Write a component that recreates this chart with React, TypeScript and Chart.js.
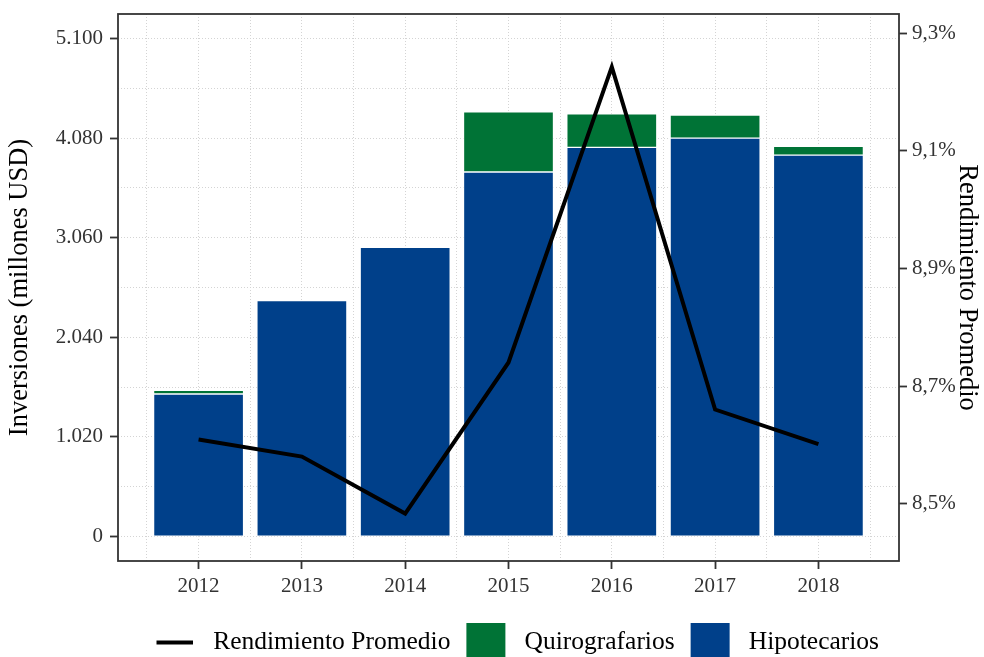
import React, { useEffect, useRef } from 'react';
import { Chart, registerables } from 'chart.js';

Chart.register(...registerables);

// ---- data ----
const years = [2012, 2013, 2014, 2015, 2016, 2017, 2018];
const hipotecarios = [1460, 2415, 2961, 3732, 3984, 4080, 3906];
const quirografarios = [36, 0, 0, 617, 344, 235, 89];
const rendimiento = [8.609, 8.58, 8.483, 8.74, 9.243, 8.66, 8.601];
const leftTickLabels = [0, 1020, 2040, 3060, 4080, 5100];
const rightTickLabels = [8.5, 8.7, 8.9, 9.1, 9.3];

const SERIF = "'Liberation Serif', 'Times New Roman', serif";
const BLUE = '#00408A';
const GREEN = '#007336';
const AXIS = '#333333';
const GRID = '#d4d4d4';
const CLEAR = 'rgba(0,0,0,0)';

// grid positions: major ticks plus one minor line halfway between each pair
const withMinor = (major: number[], first: number, last: number) => {
  const step = (major[1] - major[0]) / 2;
  const out: number[] = [];
  for (let v = first; v <= last + 1e-9; v += step) out.push(Math.round(v * 1000) / 1000);
  return out;
};
const yGrid = withMinor(leftTickLabels, 0, 5100);
const xGrid = withMinor(years, years[0] - 0.5, years[years.length - 1] + 0.5);

const fmtThousands = (v: number) => String(Math.round(v)).replace(/\B(?=(\d{3})+(?!\d))/g, '.');
const fmtPct = (v: number) => v.toFixed(1).replace('.', ',') + '%';
const isLeftLabel = (v: number) => leftTickLabels.some((t) => Math.abs(t - v) < 1e-6);
const isRightLabel = (v: number) => rightTickLabels.some((t) => Math.abs(t - v) < 1e-6);
const isYear = (v: number) => years.some((t) => Math.abs(t - v) < 1e-6);

const legendRank: Record<number, number> = { 0: 0, 2: 1, 1: 2 };

const framePlugin = {
  id: 'frameAndLegend',
  afterLayout(chart: any) {
    const lg = chart.legend;
    if (!lg || !lg.lineWidths) return;
    const pad = lg.options.labels.padding;
    const start = (lg.left + pad + lg.right - lg.lineWidths[0]) / 2;
    const shift = 155 - start;
    lg.left += shift;
    lg.right += shift;
  },
  afterDraw(chart: any) {
    const { ctx, chartArea: a } = chart;
    ctx.save();
    ctx.strokeStyle = AXIS;
    ctx.lineWidth = 1.8;
    ctx.strokeRect(a.left, a.top, a.right - a.left, a.bottom - a.top);
    const lg = chart.legend;
    if (lg && lg.legendHitBoxes && lg.legendHitBoxes[0]) {
      const hb = lg.legendHitBoxes[0];
      const y = hb.top + hb.height / 2;
      ctx.strokeStyle = '#000';
      ctx.lineWidth = 4;
      ctx.lineCap = 'butt';
      ctx.beginPath();
      ctx.moveTo(hb.left + 1.5, y);
      ctx.lineTo(hb.left + 38, y);
      ctx.stroke();
    }
    ctx.restore();
  },
};

export default function App() {
  const ref = useRef<HTMLCanvasElement>(null);

  useEffect(() => {
    const canvas = ref.current;
    if (!canvas) return;
    const chart = new Chart(canvas, {
      type: 'bar',
      data: {
        datasets: [
          {
            type: 'line',
            label: 'Rendimiento Promedio',
            data: years.map((x, i) => ({ x, y: rendimiento[i] })),
            yAxisID: 'y2',
            borderColor: '#000',
            backgroundColor: '#000',
            borderWidth: 4,
            pointRadius: 0,
            tension: 0,
            borderJoinStyle: 'miter',
            fill: false,
          } as any,
          {
            type: 'bar',
            label: 'Hipotecarios',
            data: years.map((x, i) => ({ x, y: hipotecarios[i] })),
            yAxisID: 'y',
            backgroundColor: BLUE,
            borderColor: '#ffffff',
            borderWidth: 1,
            borderSkipped: false,
            barThickness: 90,
          } as any,
          {
            type: 'bar',
            label: 'Quirografarios',
            data: years.map((x, i) => ({ x, y: quirografarios[i] })),
            yAxisID: 'y',
            backgroundColor: GREEN,
            borderColor: '#ffffff',
            borderWidth: 1,
            borderSkipped: false,
            barThickness: 90,
          } as any,
        ],
      },
      options: {
        responsive: false,
        animation: false,
        devicePixelRatio: 1,
        layout: { padding: { top: 14, left: 0, right: 0, bottom: 0 } },
        font: { family: SERIF },
        plugins: {
          tooltip: { enabled: false },
          legend: {
            position: 'bottom',
            align: 'center',
            fullSize: true,
            labels: {
              color: '#000',
              font: { family: SERIF, size: 25.5 },
              boxWidth: 39,
              boxHeight: 39,
              padding: 16,
              generateLabels(chart: any) {
                const items = (Chart as any).defaults.plugins.legend.labels.generateLabels(chart);
                return items.map((it: any) => {
                  const ds: any = chart.data.datasets[it.datasetIndex];
                  if (ds.type === 'line') {
                    return { ...it, text: ' ' + it.text, fillStyle: CLEAR, strokeStyle: CLEAR, lineWidth: 0 };
                  }
                  return { ...it, text: ' ' + it.text, lineWidth: 0 };
                });
              },
              sort: (a: any, b: any) => legendRank[a.datasetIndex] - legendRank[b.datasetIndex],
            },
          },
        },
        scales: {
          x: {
            type: 'linear',
            position: 'bottom',
            min: 2011.22,
            max: 2018.78,
            offset: false,
            stacked: true,
            afterBuildTicks(s: any) {
              s.ticks = xGrid.map((value) => ({ value }));
            },
            afterFit(s: any) {
              s.height = 46;
              s.paddingLeft = 0;
              s.paddingRight = 0;
            },
            ticks: {
              autoSkip: false,
              maxRotation: 0,
              minRotation: 0,
              padding: 5,
              color: AXIS,
              font: { family: SERIF, size: 21 },
              callback: (v: any) => (isYear(v) ? String(Math.round(v)) : ''),
            },
            grid: {
              offset: false,
              color: GRID,
              lineWidth: 1,
              tickLength: 8,
              tickWidth: 1.8,
              tickColor: (c: any) => (c.tick && isYear(c.tick.value) ? AXIS : CLEAR),
            },
            border: { display: false, dash: [1, 2] },
          } as any,
          y: {
            type: 'linear',
            position: 'left',
            min: -250,
            max: 5350,
            stacked: true,
            afterBuildTicks(s: any) {
              s.ticks = yGrid.map((value) => ({ value }));
            },
            afterFit(s: any) {
              s.width = 118;
              s.paddingTop = 0;
              s.paddingBottom = 0;
            },
            ticks: {
              autoSkip: false,
              padding: 7,
              color: AXIS,
              font: { family: SERIF, size: 21 },
              callback: (v: any) => (isLeftLabel(v) ? fmtThousands(v) : ''),
            },
            grid: {
              color: GRID,
              lineWidth: 1,
              tickLength: 8,
              tickWidth: 1.8,
              tickColor: (c: any) => (c.tick && isLeftLabel(c.tick.value) ? AXIS : CLEAR),
            },
            border: { display: false, dash: [1, 2] },
            title: {
              display: true,
              text: 'Inversiones (millones USD)',
              color: '#000',
              font: { family: SERIF, size: 26.5 },
              padding: { top: 4, bottom: 0 },
            },
          } as any,
          y2: {
            type: 'linear',
            position: 'right',
            min: 8.4023,
            max: 9.3329,
            afterBuildTicks(s: any) {
              s.ticks = rightTickLabels.map((value) => ({ value }));
            },
            afterFit(s: any) {
              s.width = 85;
              s.paddingTop = 0;
              s.paddingBottom = 0;
            },
            ticks: {
              autoSkip: false,
              padding: 5,
              color: AXIS,
              font: { family: SERIF, size: 21 },
              callback: (v: any) => (isRightLabel(v) ? fmtPct(v) : ''),
            },
            grid: {
              drawOnChartArea: false,
              tickLength: 8,
              tickWidth: 1.8,
              tickColor: AXIS,
            },
            border: { display: false },
            title: {
              display: true,
              text: 'Rendimiento Promedio',
              color: '#000',
              font: { family: SERIF, size: 26.5 },
              padding: { top: 1, bottom: 0 },
            },
          } as any,
        },
      } as any,
      plugins: [framePlugin as any],
    });
    return () => chart.destroy();
  }, []);

  return (
    <div
      style={{
        position: 'fixed',
        left: 0,
        top: 0,
        width: 984,
        height: 657,
        overflow: 'hidden',
        background: '#ffffff',
      }}
    >
      <canvas ref={ref} width={984} height={672} style={{ display: 'block', width: 984, height: 672 }} />
    </div>
  );
}
